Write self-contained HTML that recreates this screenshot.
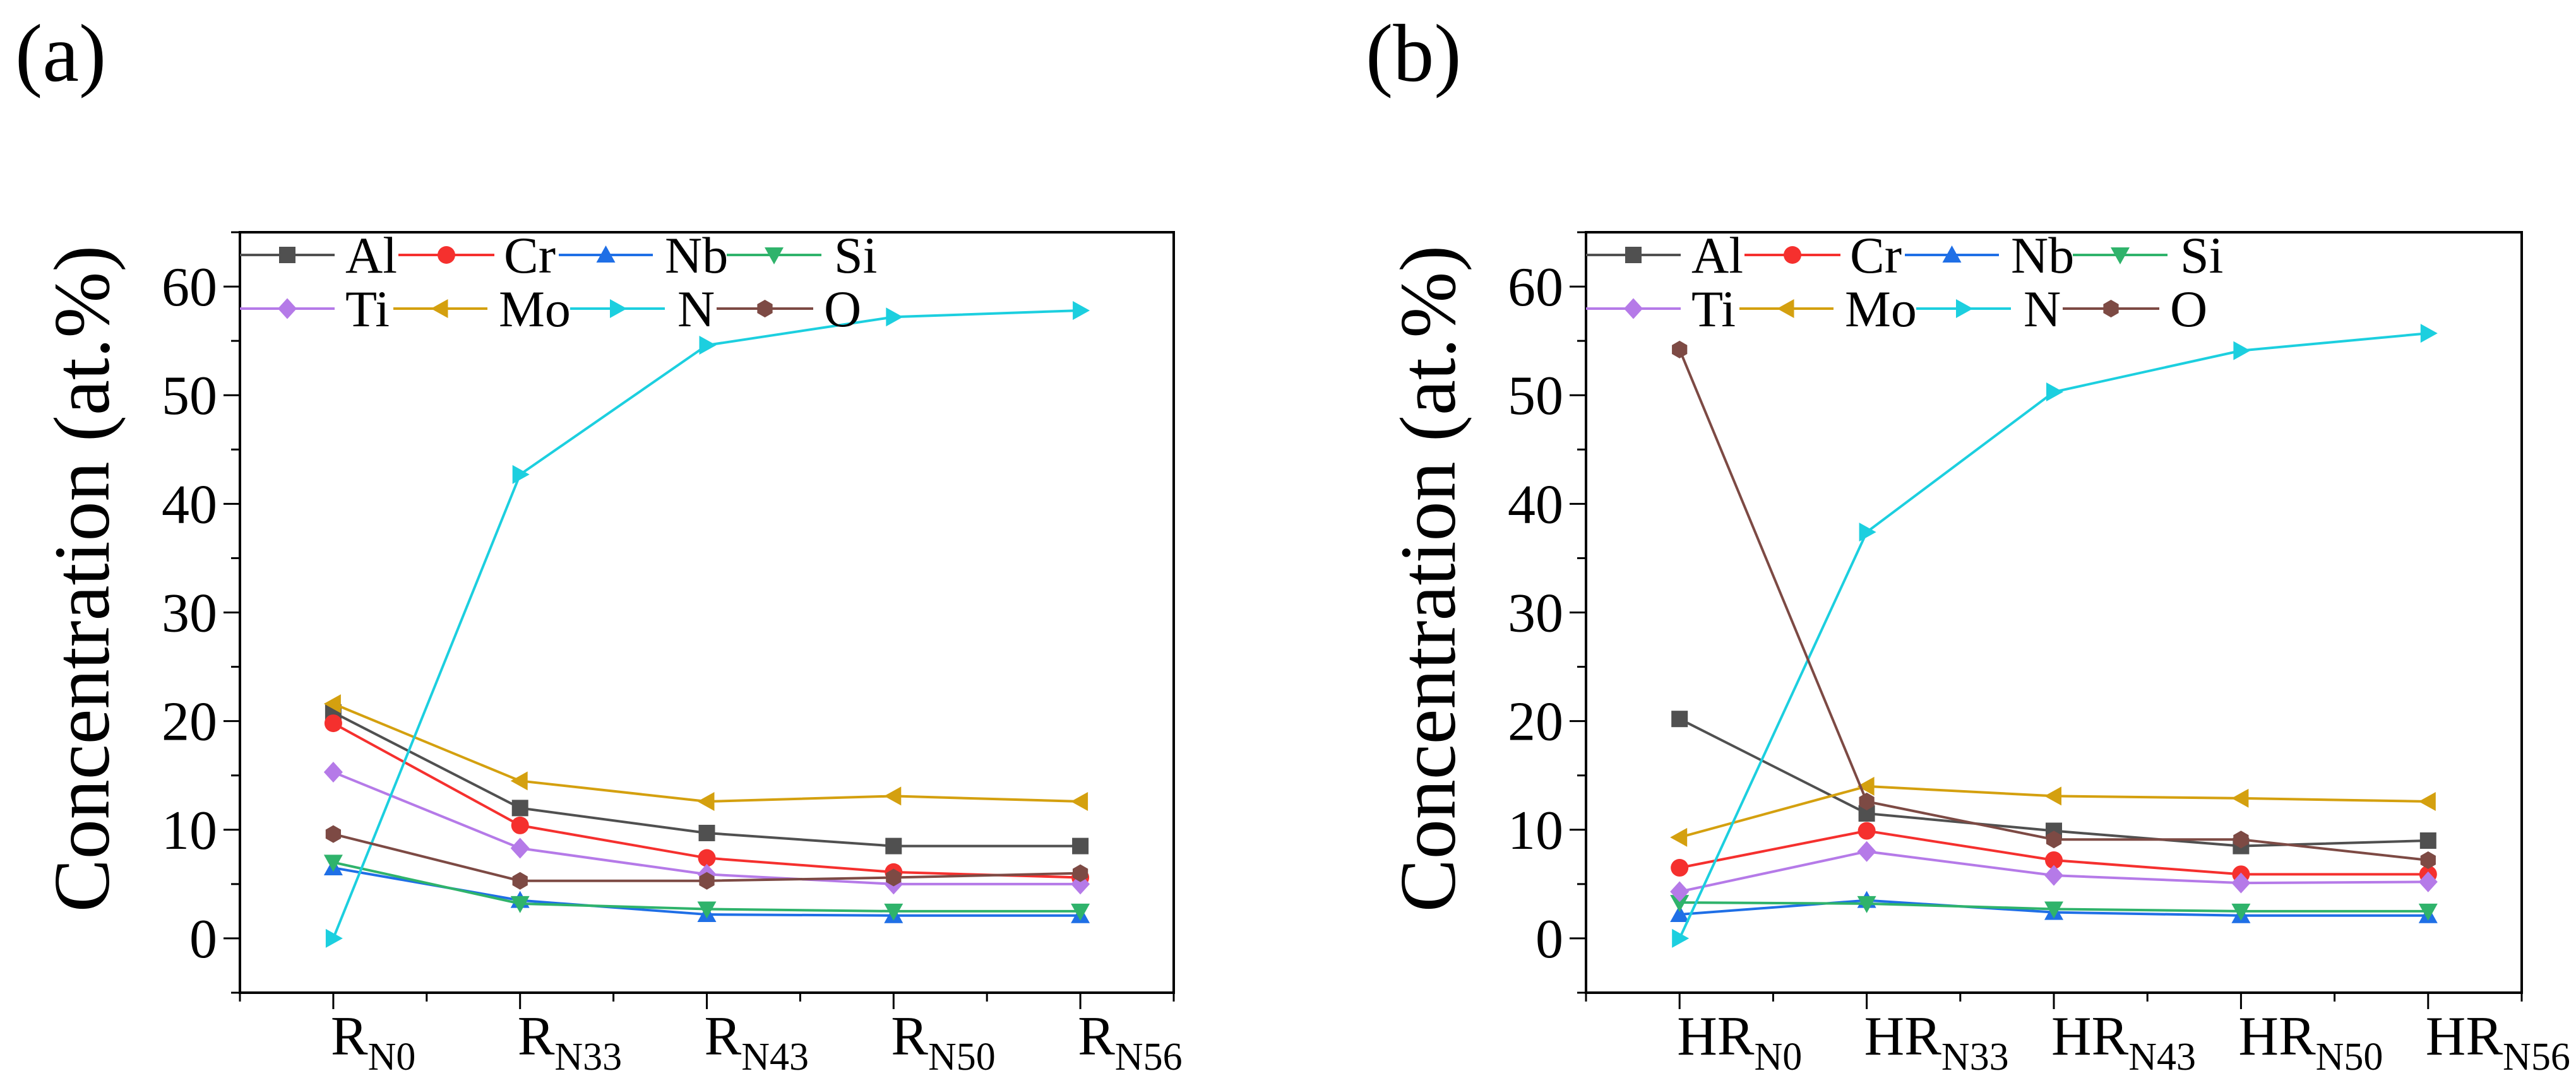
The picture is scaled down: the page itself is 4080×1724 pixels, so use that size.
<!DOCTYPE html>
<html><head><meta charset="utf-8"><style>
html,body{margin:0;padding:0;background:#fff;}
svg{display:block;}
</style></head><body>
<svg id="chart" width="4080" height="1724" viewBox="0 0 4080 1724" font-family="'Liberation Serif', serif">
<text x="24" y="128" font-size="130" font-family="'Liberation Serif', serif">(a)</text>
<text x="2163" y="128" font-size="130" font-family="'Liberation Serif', serif">(b)</text>
<text transform="translate(172,917) rotate(-90)" text-anchor="middle" font-size="126" font-family="'Liberation Serif', serif">Concentration (at.%)</text>
<text transform="translate(2304,917) rotate(-90)" text-anchor="middle" font-size="126" font-family="'Liberation Serif', serif">Concentration (at.%)</text>
</svg>
<script>
const categoriesA = ["R", "R", "R", "R", "R"];
const categoriesB = ["HR", "HR", "HR", "HR", "HR"];
const subs = ["N0", "N33", "N43", "N50", "N56"];
const yTicks = [0, 10, 20, 30, 40, 50, 60];
const seriesNames = ["Al", "Cr", "Nb", "Si", "Ti", "Mo", "N", "O"];
const alA = [20.8, 12.0, 9.7, 8.5, 8.5];
const crA = [19.8, 10.4, 7.4, 6.1, 5.6];
const nbA = [6.5, 3.5, 2.2, 2.1, 2.1];
const siA = [7.0, 3.2, 2.7, 2.5, 2.5];
const tiA = [15.3, 8.3, 5.9, 5.0, 5.0];
const moA = [21.6, 14.5, 12.6, 13.1, 12.6];
const nA = [0, 42.7, 54.6, 57.2, 57.8];
const oA = [9.6, 5.3, 5.3, 5.6, 6.0];
const alB = [20.2, 11.5, 9.9, 8.5, 9.0];
const crB = [6.5, 9.9, 7.2, 5.9, 5.9];
const nbB = [2.2, 3.5, 2.4, 2.1, 2.1];
const siB = [3.3, 3.2, 2.7, 2.5, 2.5];
const tiB = [4.3, 8.0, 5.8, 5.1, 5.2];
const moB = [9.3, 14.0, 13.1, 12.9, 12.6];
const nB = [0, 37.4, 50.3, 54.1, 55.7];
const oB = [54.2, 12.6, 9.1, 9.1, 7.2];

const colors = ["#505050", "#f5302e", "#1f6fe6", "#2fb36b", "#b57ae8", "#d4a00f", "#1ccfdf", "#7d4a44"];
const markers = ["square", "circle", "up", "down", "diamond", "left", "right", "hex"];
const NS = "http://www.w3.org/2000/svg";
const svg = document.getElementById("chart");
function mk(tag, attrs, parent) {
  const e = document.createElementNS(NS, tag);
  for (const k in attrs) e.setAttribute(k, attrs[k]);
  if (tag === "text") e.setAttribute("font-family", "'Liberation Serif', serif");
  (parent || svg).appendChild(e);
  return e;
}
function marker(g, type, x, y, c) {
  const r = 15;
  let e;
  if (type === "square") e = mk("rect", {x: x - 13, y: y - 13, width: 26, height: 26, fill: c}, g);
  else if (type === "circle") e = mk("circle", {cx: x, cy: y, r: 14, fill: c}, g);
  else {
    let pts;
    if (type === "up") pts = [[x, y - r], [x + r, y + r * 0.8], [x - r, y + r * 0.8]];
    else if (type === "down") pts = [[x, y + r], [x + r, y - r * 0.8], [x - r, y - r * 0.8]];
    else if (type === "diamond") pts = [[x, y - r * 1.1], [x + r, y], [x, y + r * 1.1], [x - r, y]];
    else if (type === "left") pts = [[x - r, y], [x + r * 0.8, y - r], [x + r * 0.8, y + r]];
    else if (type === "right") pts = [[x + r, y], [x - r * 0.8, y - r], [x - r * 0.8, y + r]];
    else { pts = []; for (let i = 0; i < 6; i++) { const a = Math.PI / 6 + i * Math.PI / 3; pts.push([x + 14 * Math.cos(a), y + 14 * Math.sin(a)]); } }
    e = mk("polygon", {points: pts.map(p => p.join(",")).join(" "), fill: c}, g);
  }
  return e;
}
function panel(id, left, right, cats, data) {
  const top = 368, bottom = 1573;
  const g = mk("g", {});
  
  
  const xs = v => left + (v + 0.5) / 5 * (right - left);
  const ys = v => bottom - (v + 5) / 70 * (bottom - top);
  const frame = mk("rect", {x: left, y: top, width: right - left, height: bottom - top, fill: "none", stroke: "#000", "stroke-width": 4}, g);
  
  
  for (let v = -5; v <= 65; v += 5) {
    const major = v % 10 === 0;
    const t = mk("line", {x1: left, x2: left - (major ? 26 : 14), y1: ys(v), y2: ys(v), stroke: "#000", "stroke-width": 3}, g);
    
    
  }
  yTicks.forEach(v => {
    const t = mk("text", {x: left - 36, y: ys(v) + 30, "font-size": 88, "text-anchor": "end", fill: "#000"}, g);
    t.textContent = v;
    
    
  });
  for (let i = -0.5; i <= 4.5; i += 0.5) {
    const major = Math.abs(i - Math.round(i)) < 0.01;
    const t = mk("line", {x1: xs(i), x2: xs(i), y1: bottom, y2: bottom + (major ? 26 : 14), stroke: "#000", "stroke-width": 3}, g);
    
    
  }
  cats.forEach((c, i) => {
    const t = mk("text", {x: xs(i) - 4, y: 1671, "font-size": 88, fill: "#000"}, g);
    
    
    const s1 = mk("tspan", {}, t); s1.textContent = c;
    const s2 = mk("tspan", {"font-size": 62, dy: 24}, t); s2.textContent = subs[i];
  });
  data.forEach((arr, si) => {
    const sg = mk("g", {}, g);
    
    
    const pl = mk("polyline", {points: arr.map((v, i) => xs(i) + "," + ys(v)).join(" "), fill: "none", stroke: colors[si], "stroke-width": 4}, sg);
    
    
    arr.forEach((v, i) => {
      const m = marker(sg, markers[si], xs(i), ys(v), colors[si]);
      
      
    });
  });
  const lineOff = [[0, 150, 167], [251, 403, 418], [505, 654, 673], [771, 921, 941], [0, 150, 167], [243, 392, 410], [523, 673, 693], [755, 908, 925]];
  const lg = mk("g", {}, g);
  
  
  seriesNames.forEach((n, si) => {
    const row = si < 4 ? 404 : 489;
    const o = lineOff[si];
    const eg = mk("g", {}, lg);
    
    
    mk("line", {x1: left + o[0], x2: left + o[1], y1: row, y2: row, stroke: colors[si], "stroke-width": 4}, eg);
    marker(eg, markers[si], left + (o[0] + o[1]) / 2, row, colors[si]);
    const t = mk("text", {x: left + o[2], y: row + 28, "font-size": 82, fill: "#000"}, eg);
    t.textContent = n;
  });
}
panel("a", 380, 1859, categoriesA, [alA, crA, nbA, siA, tiA, moA, nA, oA]);
panel("b", 2512, 3994, categoriesB, [alB, crB, nbB, siB, tiB, moB, nB, oB]);
</script>
</body></html>
